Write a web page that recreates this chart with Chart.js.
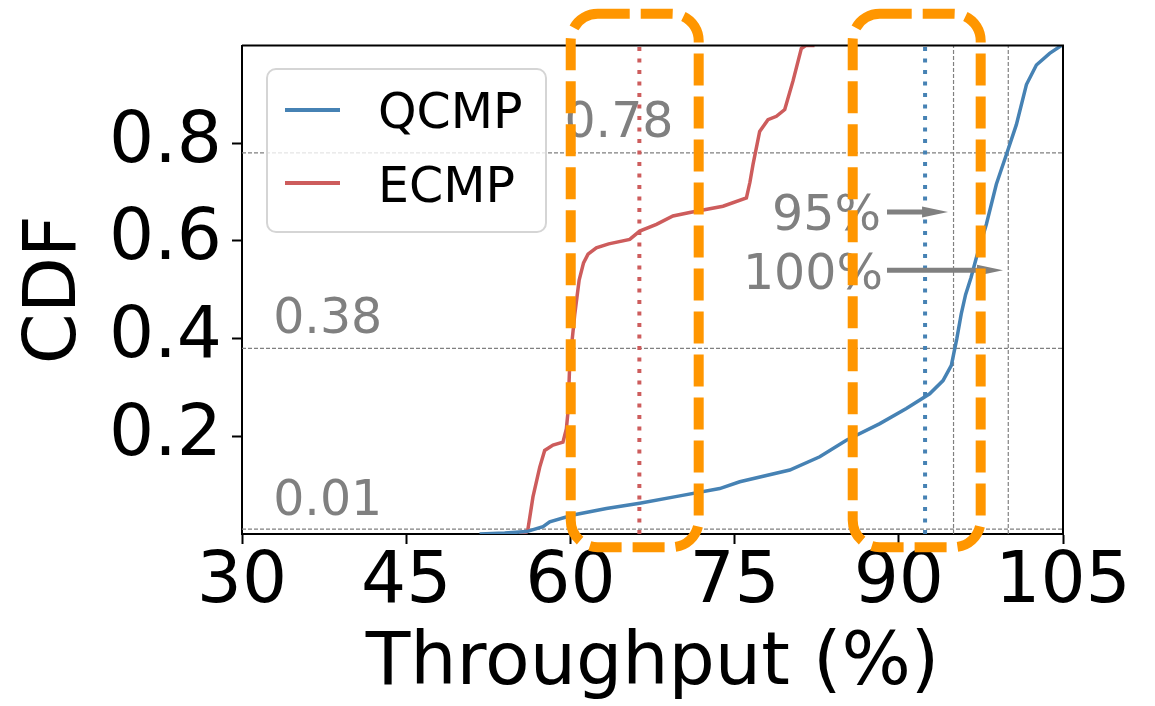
<!DOCTYPE html>
<html>
<head>
<meta charset="utf-8">
<script src="https://cdn.jsdelivr.net/npm/chart.js@4.4.1/dist/chart.umd.min.js"></script>
<style>
  html, body { margin: 0; padding: 0; background: #fff; }
  #wrap { width: 1155px; height: 706px; }
</style>
</head>
<body>
<div id="wrap"><canvas id="cdf" width="1155" height="706"></canvas></div>
<script>
// ─── Data ──────────────────────────────────────────────────────────
const qcmpX = [51.7, 54.0, 56.0, 57.5, 58.11, 60.24, 63.29, 66.33, 69.99, 73.64, 75.47, 80.04, 82.78, 85.21, 88.27, 90.69, 92.82, 94.04, 94.8, 95.3, 95.7, 96.1, 96.6, 97.09, 98.0, 98.91, 99.83, 100.74, 101.66, 102.57, 103.78, 104.85];
const qcmpY = [0.0, 0.002, 0.005, 0.015, 0.025, 0.039, 0.052, 0.063, 0.078, 0.093, 0.107, 0.131, 0.158, 0.192, 0.226, 0.257, 0.287, 0.314, 0.345, 0.4, 0.45, 0.49, 0.525, 0.566, 0.634, 0.716, 0.777, 0.838, 0.92, 0.96, 0.984, 1.0];

const ecmpX = [55.3, 56.0, 56.13, 56.58, 57.2, 57.65, 58.41, 59.32, 59.63, 59.78, 59.94, 60.4, 60.8, 61.2, 61.61, 62.37, 63.5, 65.42, 66.33, 67.86, 69.37, 70.9, 73.94, 76.08, 76.4, 76.68, 77.29, 78.05, 78.82, 79.58, 80.33, 81.1, 81.5, 82.3];
const ecmpY = [0.0, 0.004, 0.011, 0.076, 0.137, 0.171, 0.182, 0.188, 0.215, 0.25, 0.349, 0.45, 0.52, 0.555, 0.573, 0.586, 0.594, 0.603, 0.62, 0.634, 0.651, 0.658, 0.671, 0.688, 0.72, 0.756, 0.824, 0.848, 0.855, 0.869, 0.927, 0.994, 1.0, 1.0];

const xTicks = [30, 45, 60, 75, 90, 105];
const yTicks = [0.2, 0.4, 0.6, 0.8];

const hLevels   = [0.78, 0.38, 0.01];   // grey dashed horizontal refs
const hLabels   = ['0.78', '0.38', '0.01'];
const vGrey     = [95, 100];            // grey dashed vertical refs
const ecmpMark  = 66.3;                 // red dotted
const qcmpMark  = 92.4;                 // blue dotted

const BLUE   = '#4682b4';
const RED    = '#cd5c5c';
const GREY   = '#808080';
const ORANGE = '#ff9600';
const FONT   = "'DejaVu Sans', sans-serif";

const pts = (xs, ys) => xs.map((x, i) => ({ x, y: ys[i] }));

function refLine(points, color, width, dash) {
  return {
    data: points,
    borderColor: color,
    borderWidth: width,
    borderDash: dash,
    pointRadius: 0,
    fill: false,
    tension: 0,
  };
}

const datasets = [
  { label: 'QCMP', data: pts(qcmpX, qcmpY), borderColor: BLUE, borderWidth: 3.5, pointRadius: 0, tension: 0 },
  { label: 'ECMP', data: pts(ecmpX, ecmpY), borderColor: RED,  borderWidth: 3.5, pointRadius: 0, tension: 0 },
  refLine([{ x: ecmpMark, y: 0 }, { x: ecmpMark, y: 1 }], RED,  4, [4, 7.5]),
  refLine([{ x: qcmpMark, y: 0 }, { x: qcmpMark, y: 1 }], BLUE, 4, [4, 7.5]),
  ...vGrey.map(v => refLine([{ x: v, y: 0 }, { x: v, y: 1 }], GREY, 1.2, [4, 2])),
  ...hLevels.map(h => refLine([{ x: 30, y: h }, { x: 105, y: h }], GREY, 1.2, [4, 2])),
];

// ─── Overlay: frame, labels, arrows, legend, highlight boxes ───────
function arrow(ctx, x0, x1, y) {
  const head = 26, half = 5.5;
  ctx.save();
  ctx.strokeStyle = GREY;
  ctx.fillStyle = GREY;
  ctx.lineWidth = 5;
  ctx.beginPath();
  ctx.moveTo(x0, y);
  ctx.lineTo(x1 - head + 2, y);
  ctx.stroke();
  ctx.beginPath();
  ctx.moveTo(x1, y);
  ctx.lineTo(x1 - head, y - half);
  ctx.lineTo(x1 - head, y + half);
  ctx.closePath();
  ctx.fill();
  ctx.restore();
}

function roundBox(ctx, l, t, r, b, rad) {
  ctx.beginPath();
  ctx.moveTo(l + rad, t);
  ctx.lineTo(r - rad, t);
  ctx.arcTo(r, t, r, t + rad, rad);
  ctx.lineTo(r, b - rad);
  ctx.arcTo(r, b, r - rad, b, rad);
  ctx.lineTo(l + rad, b);
  ctx.arcTo(l, b, l, b - rad, rad);
  ctx.lineTo(l, t + rad);
  ctx.arcTo(l, t, l + rad, t, rad);
  ctx.closePath();
}

const overlay = {
  id: 'overlay',
  afterDraw(chart) {
    const { ctx, chartArea: a, scales: { x, y } } = chart;
    ctx.save();

    // top/right spines
    ctx.strokeStyle = '#000';
    ctx.lineWidth = 2;
    ctx.beginPath();
    ctx.moveTo(a.left, a.top);
    ctx.lineTo(a.right, a.top);
    ctx.lineTo(a.right, a.bottom);
    ctx.stroke();

    // level labels
    ctx.fillStyle = GREY;
    ctx.font = `49px ${FONT}`;
    ctx.textBaseline = 'alphabetic';
    ctx.textAlign = 'left';
    ctx.fillText(hLabels[0], x.getPixelForValue(59.45), 137);
    ctx.fillText(hLabels[1], x.getPixelForValue(32.85), 333);
    ctx.fillText(hLabels[2], x.getPixelForValue(32.85), 515);

    ctx.textAlign = 'right';
    ctx.fillText('95%', 881, 230);
    ctx.fillText('100%', 883, 289);
    arrow(ctx, 887, x.getPixelForValue(94.5), y.getPixelForValue(0.659));
    arrow(ctx, 887, x.getPixelForValue(99.52), y.getPixelForValue(0.54));

    // legend
    ctx.save();
    roundBox(ctx, 267, 69, 546, 232, 9);
    ctx.fillStyle = 'rgba(255,255,255,0.8)';
    ctx.fill();
    ctx.strokeStyle = '#d5d5d5';
    ctx.lineWidth = 2;
    ctx.stroke();
    ctx.restore();
    [['QCMP', BLUE, 110, 128], ['ECMP', RED, 183, 202]].forEach(([t, c, ly, by]) => {
      ctx.strokeStyle = c;
      ctx.lineWidth = 4;
      ctx.beginPath();
      ctx.moveTo(285, ly);
      ctx.lineTo(340, ly);
      ctx.stroke();
      ctx.fillStyle = '#000';
      ctx.textAlign = 'left';
      ctx.font = `49px ${FONT}`;
      ctx.fillText(t, 378, by);
    });

    // highlight boxes
    ctx.strokeStyle = ORANGE;
    ctx.lineWidth = 10;
    ctx.setLineDash([32, 11]);
    [[60.03, 71.72], [85.79, 97.48]].forEach(([x0, x1]) => {
      roundBox(ctx, x.getPixelForValue(x0), y.getPixelForValue(1.065),
               x.getPixelForValue(x1), y.getPixelForValue(-0.027), 27);
      ctx.stroke();
    });
    ctx.restore();
  }
};

new Chart(document.getElementById('cdf'), {
  type: 'line',
  data: { datasets },
  options: {
    responsive: false,
    animation: false,
    devicePixelRatio: 1,
    layout: { padding: { top: 44, right: 92, bottom: 0, left: 0 } },
    plugins: { legend: { display: false }, tooltip: { enabled: false } },
    scales: {
      x: {
        type: 'linear',
        min: 30, max: 105,
        afterFit: s => { s.height = 172; },
        afterBuildTicks: s => { s.ticks = xTicks.map(v => ({ value: v })); },
        ticks: { color: '#000', font: { family: FONT, size: 71, lineHeight: 1 }, padding: 4, maxRotation: 0 },
        grid: { drawOnChartArea: false, drawTicks: true, tickLength: 10, tickWidth: 2, tickColor: '#000' },
        border: { display: true, color: '#000', width: 2 },
        title: { display: true, text: 'Throughput (%)', color: '#000', font: { family: FONT, size: 73 }, padding: { top: 0, bottom: -3 } },
      },
      y: {
        min: 0, max: 1,
        afterFit: s => { s.width = 242; },
        afterBuildTicks: s => { s.ticks = yTicks.map(v => ({ value: v })); },
        ticks: { color: '#000', font: { family: FONT, size: 71, lineHeight: 1 }, padding: 10, callback: v => v.toFixed(1) },
        grid: { drawOnChartArea: false, drawTicks: true, tickLength: 10, tickWidth: 2, tickColor: '#000' },
        border: { display: true, color: '#000', width: 2 },
        title: { display: true, text: 'CDF', color: '#000', font: { family: FONT, size: 73 }, padding: { top: 12, bottom: 0 } },
      }
    }
  },
  plugins: [overlay]
});
</script>
</body>
</html>
